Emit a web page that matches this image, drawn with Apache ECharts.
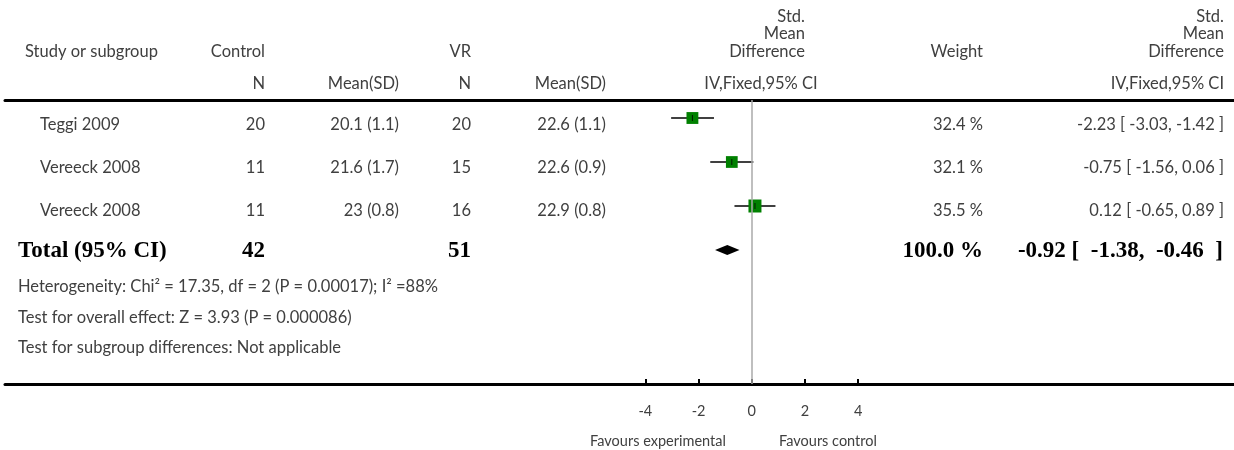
<!DOCTYPE html>
<html><head><meta charset="utf-8">
<script src="https://cdn.jsdelivr.net/npm/echarts@6/dist/echarts.min.js"></script>
<style>html,body{margin:0;padding:0;background:#fff}#c{width:1234px;height:450px}</style>
</head><body><div id="c"></div>
<script>
const studies = ['Teggi 2009', 'Vereeck 2008', 'Vereeck 2008'];
const controlN = [20, 11, 11];
const controlMeanSD = ['20.1 (1.1)', '21.6 (1.7)', '23 (0.8)'];
const vrN = [20, 15, 16];
const vrMeanSD = ['22.6 (1.1)', '22.6 (0.9)', '22.9 (0.8)'];
const smd = [-2.23, -0.75, 0.12];
const ciLow = [-3.03, -1.56, -0.65];
const ciHigh = [-1.42, 0.06, 0.89];
const weights = [32.4, 32.1, 35.5];
const totalLabel = 'Total (95% CI)';
const totalN = [42, 51];
const totalEstimate = [-0.92, -1.38, -0.46];
const totalWeight = 100.0;
const footnotes = [
  'Heterogeneity: Chi\u00b2 = 17.35, df = 2 (P = 0.00017); I\u00b2 =88%',
  'Test for overall effect: Z = 3.93 (P = 0.000086)',
  'Test for subgroup differences: Not applicable'
];
const tickValues = [-4, -2, 0, 2, 4];
const favours = ['Favours experimental', 'Favours control'];

const chart = echarts.init(document.getElementById('c'));
const FONT = 'Lato';
const TXT = '#404040';
const fs = 16.5;
const fmt2 = v => v.toFixed(2);
const ciText = (e, l, h) => `${fmt2(e)} [ ${fmt2(l)}, ${fmt2(h)} ]`;

const g = [];
function t(text, x, y, align, opts) {
  g.push({type: 'text', x: x, y: y, silent: true, style: Object.assign({
    text: text, fill: TXT, font: `${fs}px ${FONT}`, align: align || 'left', verticalAlign: 'middle'
  }, opts || {})});
}
// headers
t('Study or subgroup', 25, 52);
t('Control', 265, 52, 'right');
t('N', 265, 84, 'right');
t('Mean(SD)', 399, 84, 'right');
t('VR', 471, 52, 'right');
t('N', 471, 84, 'right');
t('Mean(SD)', 606, 84, 'right');
t('Std.', 805, 17, 'right'); t('Mean', 805, 34, 'right'); t('Difference', 805, 52, 'right');
t('IV,Fixed,95% CI', 761, 84, 'center');
t('Weight', 983, 52, 'right');
t('Std.', 1224, 17, 'right'); t('Mean', 1224, 34, 'right'); t('Difference', 1224, 52, 'right');
t('IV,Fixed,95% CI', 1224, 84, 'right');
const rowY = [125, 168, 211];
studies.forEach((s, i) => {
  const y = rowY[i];
  t(s, 40, y);
  t(String(controlN[i]), 265, y, 'right');
  t(controlMeanSD[i], 399, y, 'right');
  t(String(vrN[i]), 471, y, 'right');
  t(vrMeanSD[i], 606, y, 'right');
  t(weights[i].toFixed(1) + ' %', 983, y, 'right');
  t(ciText(smd[i], ciLow[i], ciHigh[i]), 1224, y, 'right');
});
const bold = {fill: '#000', font: `bold 23px "Liberation Serif"`};
t(totalLabel, 18, 251, 'left', bold);
t(String(totalN[0]), 265, 251, 'right', bold);
t(String(totalN[1]), 471, 251, 'right', bold);
t(totalWeight.toFixed(1) + ' %', 983, 251, 'right', bold);
t(ciText(totalEstimate[0], totalEstimate[1], totalEstimate[2]).replace(/ /g, '  ').replace('  ', ' '), 1223, 251, 'right', bold);
footnotes.forEach((f, i) => t(f, 18, [287, 318, 348][i]));
t(favours[0], 658, 441, 'center', {font: `14.5px ${FONT}`});
t(favours[1], 828, 441, 'center', {font: `14.5px ${FONT}`});

const studyData = smd.map((v, i) => [v, ciLow[i], ciHigh[i], i, weights[i]]);
const maxW = Math.max(...weights);

chart.setOption({
  animation: false,
  grid: {left: 5, right: 0, top: 100, bottom: 66},
  xAxis: [{
    type: 'value', min: -28.06, max: 18.12, position: 'bottom',
    axisLine: {show: true, onZero: false, lineStyle: {color: '#000', width: 3}},
    axisTick: {show: true, inside: true, length: 5, customValues: tickValues, lineStyle: {color: '#000', width: 2}},
    axisLabel: {show: true, customValues: tickValues, margin: 20, color: TXT, fontFamily: FONT, fontSize: 14.5},
    splitLine: {show: false}
  }, {
    type: 'value', min: -28.06, max: 18.12, position: 'top',
    axisLine: {show: true, onZero: false, lineStyle: {color: '#000', width: 3}},
    axisTick: {show: false}, axisLabel: {show: false}, splitLine: {show: false}
  }],
  yAxis: {type: 'value', inverse: true, min: -0.409, max: 6.045, show: false},
  series: [{
    type: 'custom', xAxisIndex: 0, data: studyData,
    renderItem: (params, api) => {
      const e = api.value(0), l = api.value(1), h = api.value(2), r = api.value(3), w = api.value(4);
      const pc = api.coord([e, r]), pl = api.coord([l, r]), ph = api.coord([h, r]);
      const s = w / maxW * 13;
      return {type: 'group', children: [
        {type: 'line', shape: {x1: pl[0], y1: pl[1], x2: ph[0], y2: ph[1]}, style: {stroke: '#000', lineWidth: 1.5}},
        {type: 'rect', shape: {x: pc[0] - s / 2, y: pc[1] - s / 2, width: s, height: s}, style: {fill: '#008000'}},
        {type: 'line', shape: {x1: pc[0], y1: pc[1] - 3, x2: pc[0], y2: pc[1] + 3}, style: {stroke: '#000', lineWidth: 0.8}}
      ]};
    },
    markLine: {
      silent: true, symbol: 'none', label: {show: false},
      lineStyle: {color: '#aaa', width: 1.5, type: 'solid'},
      data: [{xAxis: 0}]
    }
  }, {
    type: 'custom', xAxisIndex: 0, data: [[totalEstimate[0], totalEstimate[1], totalEstimate[2], 3]],
    renderItem: (params, api) => {
      const r = api.value(3);
      const pc = api.coord([api.value(0), r]), pl = api.coord([api.value(1), r]), ph = api.coord([api.value(2), r]);
      return {type: 'polygon', shape: {points: [[pl[0], pc[1]], [pc[0], pc[1] - 5], [ph[0], pc[1]], [pc[0], pc[1] + 5]]}, style: {fill: '#000'}};
    }
  }],
  graphic: g
});
</script></body></html>
